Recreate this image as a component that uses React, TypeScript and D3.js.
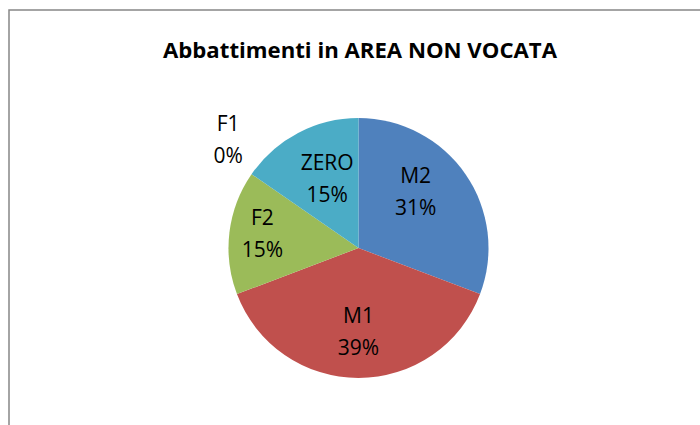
import React from "react";
import * as d3 from "d3";

const categories = ["M2", "M1", "F2", "F1", "ZERO"];
const values = [4, 5, 2, 0, 2];
const pctLabels = ["31%", "39%", "15%", "0%", "15%"];
const colors = ["#4F81BD", "#C0504D", "#9BBB59", "#8064A2", "#4BACC6"];
const title = "Abbattimenti in AREA NON VOCATA";

// label "best fit" nudges (layout only), keyed by category
const labelNudge: Record<string, [number, number]> = {
  M2: [-13.5, -8],
  M1: [0, -3],
  F2: [-11, -5],
  F1: [6.5, -14.5],
  ZERO: [8.5, 5.5],
};

const W = 700;
const H = 425;
const cx = 358.5;
const cy = 248;
const R = 130;

export default function App() {
  const pie = d3
    .pie<number>()
    .sort(null)
    .value((d) => d)
    .startAngle(0)
    .endAngle(2 * Math.PI);
  const arcs = pie(values);
  const arcGen = d3.arc<d3.PieArcDatum<number>>().innerRadius(0).outerRadius(R);
  const inLabel = d3.arc<d3.PieArcDatum<number>>().innerRadius(R * 0.66).outerRadius(R * 0.66);
  const outLabel = d3.arc<d3.PieArcDatum<number>>().innerRadius(R * 1.28).outerRadius(R * 1.28);
  const font = "'Open Sans', 'Liberation Sans', sans-serif";

  return (
    <svg
      width={W}
      height={H}
      style={{ position: "absolute", left: 0, top: 0, background: "#fff" }}
    >
      <rect x={9} y={10} width={W + 20} height={H + 20} fill="#fff" stroke="#878787" strokeWidth={1.5} />
      <text
        x={360}
        y={58}
        textAnchor="middle"
        fontFamily={font}
        fontWeight="bold"
        fontSize={22}
        textLength={394}
        lengthAdjust="spacingAndGlyphs"
        fill="#000"
      >
        {title}
      </text>
      <g transform={`translate(${cx},${cy})`}>
        {arcs.map((a, i) => (
          <path key={categories[i]} d={arcGen(a) || ""} fill={colors[i]} />
        ))}
        {arcs.map((a, i) => {
          const [bx, by] = a.value === 0 ? outLabel.centroid(a) : inLabel.centroid(a);
          const [nx, ny] = labelNudge[categories[i]] || [0, 0];
          const x = bx + nx;
          const y = by + ny;
          return (
            <text
              key={"l" + categories[i]}
              x={x}
              y={y}
              textAnchor="middle"
              fontFamily={font}
              fontSize={21}
              fill="#000"
            >
              <tspan x={x} dy={-8}>{categories[i]}</tspan>
              <tspan x={x} dy={32}>{pctLabels[i]}</tspan>
            </text>
          );
        })}
      </g>
    </svg>
  );
}
